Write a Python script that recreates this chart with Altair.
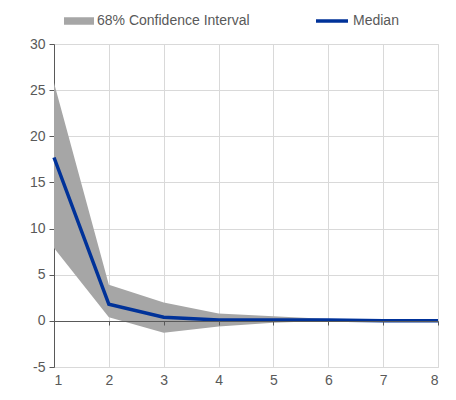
import altair as alt
import pandas as pd

periods = [1, 2, 3, 4, 5, 6, 7, 8]
median = [17.7, 1.8, 0.4, 0.1, 0.1, 0.1, 0.0, 0.0]
upper = [25.8, 3.9, 2.0, 0.8, 0.5, 0.2, 0.1, 0.05]
lower = [7.9, 0.4, -1.3, -0.6, -0.2, 0.0, -0.05, 0.0]

df = pd.DataFrame({
    "period": periods,
    "median": median,
    "upper": upper,
    "lower": lower,
    "band": ["68% Confidence Interval"] * len(periods),
    "line": ["Median"] * len(periods),
})

FONT = "Liberation Sans"
TXT = "#595959"

xscale = alt.Scale(domain=[1, 8], nice=False, zero=False)
yscale = alt.Scale(domain=[-5, 30], nice=False)

band = alt.Chart(df).mark_area(color="#a6a6a6", opacity=1).encode(
    x=alt.X("period:Q", scale=xscale,
            axis=alt.Axis(title=None, orient="bottom", labels=False, grid=False, domain=True,
                          domainColor="#595959", ticks=True, tickColor="#595959",
                          tickSize=4, offset=-46, zindex=1, values=periods)),
    y=alt.Y("upper:Q", scale=yscale,
            axis=alt.Axis(title=None, values=[-5, 0, 5, 10, 15, 20, 25, 30],
                          grid=True, gridColor="#d9d9d9", domainColor="#595959",
                          tickColor="#595959", tickSize=5, labelFont=FONT,
                          labelFontSize=14, labelColor=TXT, labelPadding=4,
                          labelExpr="'' + datum.value")),
    y2="lower:Q",
    fill=alt.Fill("band:N", scale=alt.Scale(range=["#a6a6a6"]),
                  legend=alt.Legend(title=None, orient="none", legendX=10, legendY=-38,
                                    symbolType="M-1,-0.25H1V0.25H-1Z", symbolSize=900,
                                    symbolStrokeWidth=0, labelFont=FONT, labelFontSize=14,
                                    labelColor=TXT, labelOffset=3)),
)

line = alt.Chart(df).mark_line(color="#003299", strokeWidth=3.5).encode(
    x=alt.X("period:Q", scale=xscale,
            axis=alt.Axis(title=None, orient="bottom", values=periods, grid=True,
                          gridColor="#d9d9d9", domain=False, ticks=False, labelFont=FONT,
                          labelFontSize=14, labelColor=TXT, labelPadding=6)),
    y=alt.Y("median:Q", scale=yscale),
    stroke=alt.Stroke("line:N", scale=alt.Scale(range=["#003299"]),
                      legend=alt.Legend(title=None, orient="none", legendX=260, legendY=-41,
                                        symbolType="stroke", symbolSize=1024,
                                        symbolStrokeWidth=3.5, labelFont=FONT,
                                        labelFontSize=14, labelColor=TXT, labelOffset=3)),
)

chart = alt.layer(band, line).resolve_axis(x="independent").resolve_scale(
    fill="independent", stroke="independent"
).properties(
    width=384, height=323,
    autosize=alt.AutoSizeParams(type="none"),
    padding={"left": 46, "top": 36, "right": 10, "bottom": 20},
).configure_view(stroke=None).configure(background="white")

chart.save("out.html", embed_options={"renderer": "svg", "actions": False})
